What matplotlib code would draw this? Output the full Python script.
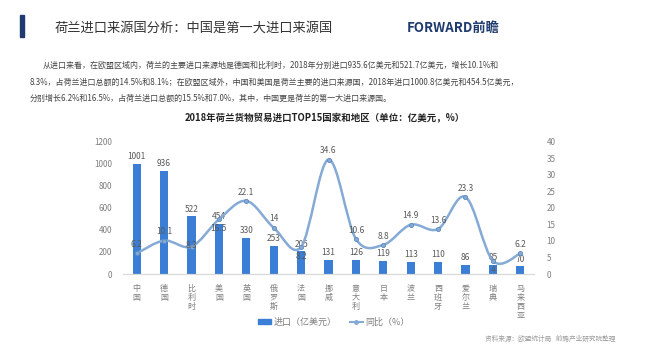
import numpy as np
import matplotlib.pyplot as plt
from matplotlib.path import Path
from matplotlib.patches import PathPatch, Rectangle
from matplotlib.lines import Line2D

plt.rcParams['font.family'] = ['Noto Sans CJK SC', 'DejaVu Sans']

countries = ["中国", "德国", "比利时", "美国", "英国", "俄罗斯", "法国", "挪威",
             "意大利", "日本", "波兰", "西班牙", "爱尔兰", "瑞典", "马来西亚"]
imports = [1001, 936, 522, 454, 330, 253, 205, 131, 126, 119, 113, 110, 86, 85, 70]
yoy = [6.2, 10.1, 8.3, 16.5, 22.1, 14, 8.2, 34.6, 10.6, 8.8, 14.9, 13.6, 23.3, 4, 6.2]
# where the yoy label sits relative to its point
yoy_label_pos = ["above", "above", "on", "below", "above", "above", "below", "above",
                 "above", "above", "above", "above", "above", "below", "above"]

left_ticks = [0, 200, 400, 600, 800, 1000, 1200]
right_ticks = [0, 5, 10, 15, 20, 25, 30, 35, 40]

title = "荷兰进口来源国分析：中国是第一大进口来源国"
para = [
    "从进口来看，在欧盟区域内，荷兰的主要进口来源地是德国和比利时，2018年分别进口935.6亿美元和521.7亿美元，增长10.1%和",
    "8.3%，占荷兰进口总额的14.5%和8.1%；在欧盟区域外，中国和美国是荷兰主要的进口来源国，2018年进口1000.8亿美元和454.5亿美元，",
    "分别增长6.2%和16.5%，占荷兰进口总额的15.5%和7.0%，其中，中国更是荷兰的第一大进口来源国。",
]
chart_title = "2018年荷兰货物贸易进口TOP15国家和地区（单位：亿美元，%）"
source = "资料来源：欧盟统计局   前瞻产业研究院整理"

BAR = "#3a7fd5"
LINE = "#84aad5"
GREY = "#7f7f7f"


def smooth_path(xs, ys):
    # excel-like smoothed line: catmull-rom turned into cubic beziers
    pts = np.column_stack([xs, ys]).astype(float)
    n = len(pts)
    verts = [pts[0]]
    codes = [Path.MOVETO]
    for i in range(n - 1):
        p0 = pts[i - 1] if i > 0 else pts[i]
        p1 = pts[i]
        p2 = pts[i + 1]
        p3 = pts[i + 2] if i + 2 < n else pts[i + 1]
        c1 = p1 + (p2 - p0) / 6
        c2 = p2 - (p3 - p1) / 6
        verts += [c1, c2, p2]
        codes += [Path.CURVE4] * 3
    return Path(verts, codes)


fig = plt.figure(figsize=(6.5, 3.58), dpi=100)
fig.patch.set_facecolor("white")

# header
fig.patches.append(Rectangle((20 / 650, 1 - 37 / 358), 4 / 650, 22 / 358,
                             transform=fig.transFigure, color="#1f3a6e"))
fig.text(55 / 650, 1 - 28 / 358, title, fontsize=9.5, color="#333333", va="center")
fig.text(500 / 650, 1 - 28 / 358, "FORWARD前瞻", fontsize=9.5, color="#1f3a6e",
         fontweight="bold", va="center", ha="right")

ys = [65, 82, 98]
xs0 = [43, 30, 30]
for line, y, x0 in zip(para, ys, xs0):
    fig.text(x0 / 650, 1 - y / 358, line, fontsize=5.75, color="#444444", va="center")

fig.text(325 / 650, 1 - 118 / 358, chart_title, fontsize=6.8, color="#222222",
         fontweight="bold", va="center", ha="center")

ax = fig.add_axes([123 / 650, 1 - 274 / 358, 411 / 650, 132.3 / 358])
ax2 = ax.twinx()

x = np.arange(len(countries))
ax.bar(x, imports, width=0.3, color=BAR, zorder=2)
for xi, v in zip(x, imports):
    ax.text(xi, v + 25, str(v), ha="center", va="bottom", fontsize=6, color="#595959")

ax.set_xlim(-0.5, len(countries) - 0.5)
ax.set_ylim(0, 1200)
ax.set_yticks(left_ticks)
ax2.set_ylim(0, 40)
ax2.set_yticks(right_ticks)

path = smooth_path(x, yoy)
ax2.add_patch(PathPatch(path, facecolor="none", edgecolor=LINE, lw=1.8, zorder=3))
ax2.plot(x, yoy, ls="none", marker="o", ms=3, color=LINE, mec="#5f8cc0", mew=0.6, zorder=4)
for xi, v, pos in zip(x, yoy, yoy_label_pos):
    lab = f"{v:g}"
    if pos == "below":
        ax2.text(xi, v - 1.5, lab, ha="center", va="top", fontsize=6, color="#595959", zorder=5)
    elif pos == "on":
        ax2.text(xi, v + 0.3, lab, ha="center", va="center", fontsize=6, color="#595959", zorder=5)
    else:
        ax2.text(xi, v + 1.3, lab, ha="center", va="bottom", fontsize=6, color="#595959", zorder=5)

ax.set_xticks(x)
ax.set_xticklabels(["\n".join(c) for c in countries], fontsize=6.1, color=GREY,
                   linespacing=1.0, va="top")
for a in (ax, ax2):
    for s in ["top", "left", "right"]:
        a.spines[s].set_visible(False)
    a.spines["bottom"].set_color("#d9d9d9")
    a.tick_params(length=0, labelsize=5.8, labelcolor=GREY)
ax.tick_params(axis="y", pad=8)
ax2.tick_params(axis="y", pad=9)
ax.tick_params(axis="x", pad=7)

handles = [Rectangle((0, 0), 1, 1, color=BAR),
           Line2D([], [], color=LINE, lw=1.5, marker="o", ms=2.5)]
fig.legend(handles, ["进口（亿美元）", "同比（%）"], loc="center",
           bbox_to_anchor=(334 / 650, 1 - 322 / 358), ncol=2, frameon=False,
           fontsize=6.5, labelcolor=GREY, handlelength=1.4, handleheight=0.6,
           columnspacing=1.5, handletextpad=0.3)

fig.text(615 / 650, 1 - 339 / 358, source, fontsize=4.8, color="#9a9a9a",
         va="center", ha="right")

plt.savefig("out.png", dpi=100)
